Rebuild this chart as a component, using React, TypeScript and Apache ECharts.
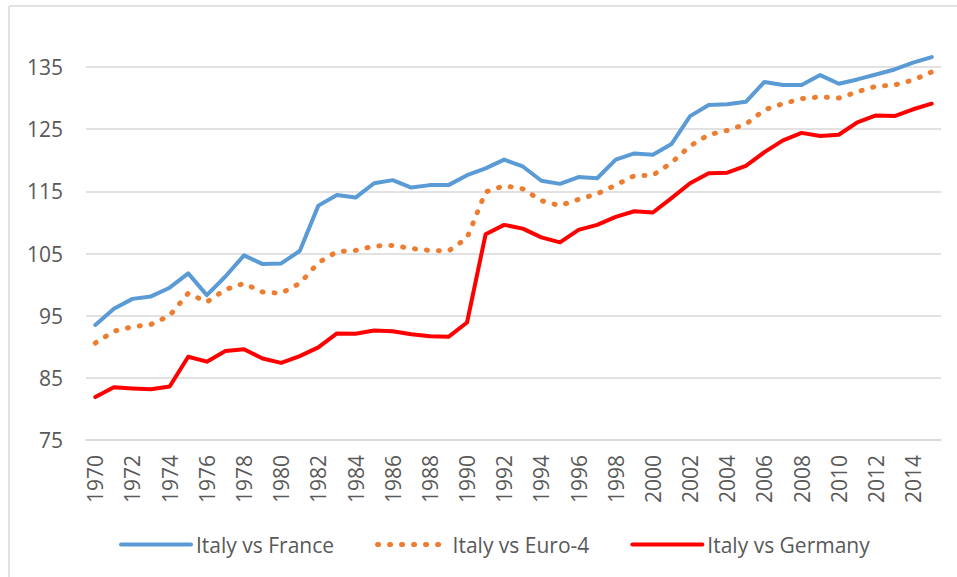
import React, { useEffect, useRef } from "react";
import * as echarts from "echarts";

const years: string[] = [];
for (let y = 1970; y <= 2015; y++) years.push(String(y));

const seriesNames = ["Italy vs France", "Italy vs Euro-4", "Italy vs Germany"];

const france = [
  93.5, 96.1, 97.7, 98.1, 99.5, 101.8, 98.3, 101.3, 104.7, 103.3, 103.4, 105.4, 112.7, 114.4, 114.0, 116.3,
  116.8, 115.6, 116.0, 116.0, 117.6, 118.7, 120.1, 119.0, 116.7, 116.2, 117.3, 117.1, 120.1, 121.1, 120.9, 122.6,
  127.1, 128.9, 129.0, 129.4, 132.6, 132.1, 132.1, 133.7, 132.3, 133.0, 133.8, 134.6, 135.7, 136.6,
];

const euro4 = [
  90.6, 92.5, 93.2, 93.6, 95.0, 98.6, 97.2, 99.2, 100.2, 98.8, 98.6, 100.2, 103.5, 105.3, 105.5, 106.2,
  106.3, 105.8, 105.5, 105.4, 107.5, 114.9, 115.9, 115.4, 113.5, 112.7, 113.7, 114.6, 116.0, 117.5, 117.6, 119.6,
  122.3, 124.1, 124.8, 125.8, 128.1, 129.1, 129.9, 130.2, 130.0, 131.0, 131.9, 132.1, 132.9, 134.2,
];

const germany = [
  81.9, 83.5, 83.3, 83.15, 83.6, 88.4, 87.6, 89.3, 89.6, 88.1, 87.4, 88.5, 89.9, 92.15, 92.1, 92.6,
  92.5, 92.0, 91.7, 91.6, 93.9, 108.1, 109.6, 109.0, 107.6, 106.8, 108.8, 109.6, 110.9, 111.8, 111.6, 113.9,
  116.3, 117.9, 118.0, 119.1, 121.3, 123.2, 124.4, 123.9, 124.1, 126.1, 127.2, 127.1, 128.2, 129.1,
];

const yMin = 75;
const yMax = 135;
const yStep = 10;

const FONT = "'Open Sans', 'Liberation Sans', sans-serif";
const TEXT = "#595959";
const GRID = "#D9D9D9";
const BLUE = "#5B9BD5";
const ORANGE = "#ED7D31";
const RED = "#FF0000";
const DOTS = [1, 11];

export default function App() {
  const ref = useRef<HTMLDivElement>(null);

  useEffect(() => {
    if (!ref.current) return;
    const chart = echarts.init(ref.current, undefined, { renderer: "svg" });
    chart.setOption({
      animation: false,
      backgroundColor: "#ffffff",
      textStyle: { fontFamily: FONT },
      grid: { left: 86, right: 16, top: 67, bottom: 137, containLabel: false },
      graphic: [
        { type: "line", shape: { x1: 9, y1: 6, x2: 957, y2: 6 }, style: { stroke: GRID, lineWidth: 1.5 } },
        { type: "line", shape: { x1: 9, y1: 6, x2: 9, y2: 577 }, style: { stroke: GRID, lineWidth: 1.5 } },
      ],
      legend: {
        left: 114,
        top: 529,
        itemWidth: 70,
        itemHeight: 14,
        itemGap: 41,
        textStyle: { fontFamily: FONT, fontSize: 21, color: TEXT },
        data: [
          { name: seriesNames[0], itemStyle: { opacity: 0 }, lineStyle: { width: 4, color: BLUE, cap: "round" } },
          {
            name: seriesNames[1],
            itemStyle: { opacity: 0 },
            lineStyle: { width: 5, color: ORANGE, type: DOTS, cap: "round" },
          },
          { name: seriesNames[2], itemStyle: { opacity: 0 }, lineStyle: { width: 4, color: RED, cap: "round" } },
        ],
      },
      xAxis: {
        type: "category",
        data: years,
        boundaryGap: true,
        axisLine: { show: true, lineStyle: { color: GRID, width: 1.5 } },
        axisTick: { show: false },
        axisLabel: {
          rotate: 90,
          interval: 1,
          margin: 15,
          fontSize: 21,
          fontFamily: FONT,
          color: TEXT,
        },
        splitLine: { show: false },
      },
      yAxis: {
        type: "value",
        min: yMin,
        max: yMax,
        interval: yStep,
        axisLine: { show: false },
        axisTick: { show: false },
        axisLabel: { margin: 23, fontSize: 21, fontFamily: FONT, color: TEXT },
        splitLine: { lineStyle: { color: GRID, width: 1.5 } },
      },
      series: [
        {
          name: seriesNames[0],
          type: "line",
          data: france,
          symbol: "none",
          clip: false,
          color: BLUE,
          lineStyle: { color: BLUE, width: 4, cap: "round", join: "round" },
        },
        {
          name: seriesNames[1],
          type: "line",
          data: euro4,
          symbol: "none",
          clip: false,
          color: ORANGE,
          lineStyle: { color: ORANGE, width: 5, type: DOTS, cap: "round", join: "round" },
        },
        {
          name: seriesNames[2],
          type: "line",
          data: germany,
          symbol: "none",
          clip: false,
          color: RED,
          lineStyle: { color: RED, width: 4, cap: "round", join: "round" },
        },
      ],
    });
    return () => chart.dispose();
  }, []);

  return (
    <div
      ref={ref}
      style={{ position: "absolute", left: 0, top: 0, width: 957, height: 577, background: "#fff" }}
    />
  );
}
